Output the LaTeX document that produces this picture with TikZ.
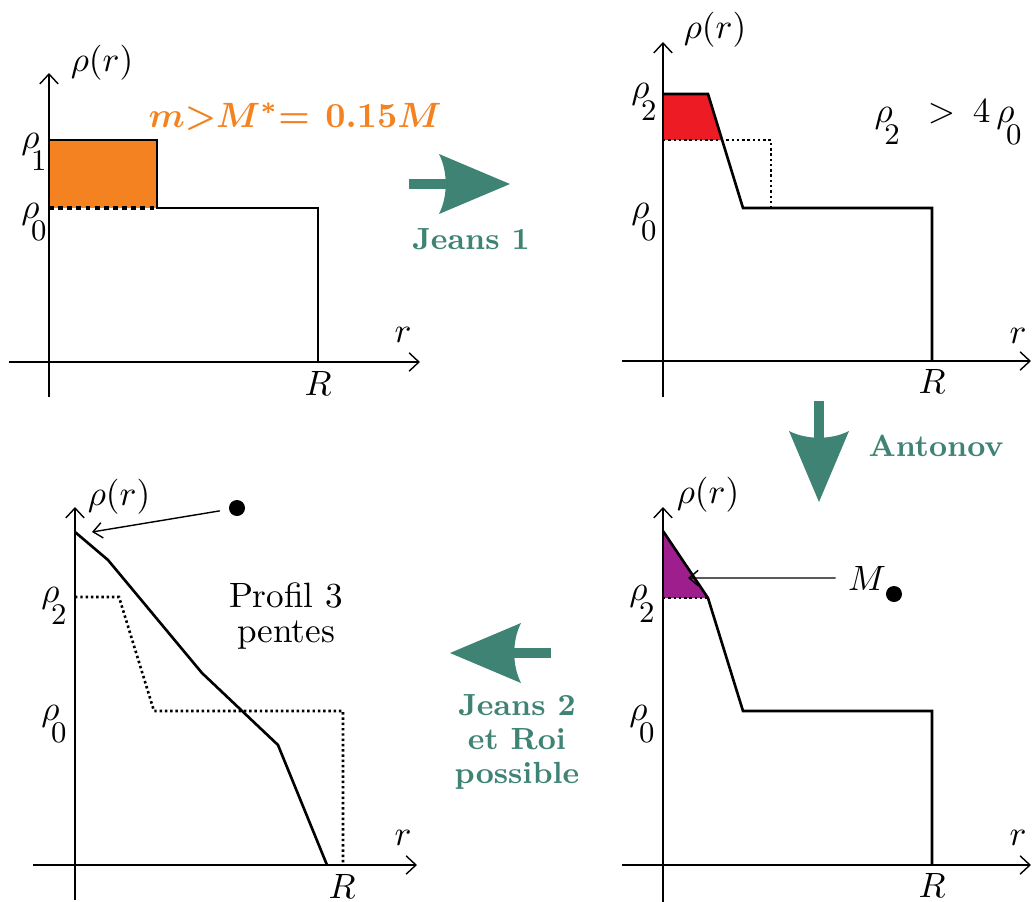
\documentclass[tikz,border=0pt]{standalone}
\usepackage{amsmath,amssymb}
\usepackage{xcolor}
\usetikzlibrary{positioning,arrows.meta}
\definecolor{jeansgreen}{RGB}{62,131,116}
\definecolor{massorange}{RGB}{244,130,32}
\definecolor{corered}{RGB}{237,28,36}
\definecolor{cuspviolet}{RGB}{158,30,142}
\newcommand{\rhosub}[1]{$\rho$\kern-2.4pt\raisebox{-6.3pt}{\fontsize{8.5}{9}\selectfont #1}}
\tikzset{bigarrow/.pic={
  \fill[jeansgreen] (-101,-5) rectangle (-62,5);
  \fill[jeansgreen] (0,0) -- (-71,-30) .. controls (-62,-12) and (-62,12) .. (-71,30) -- cycle;
}}

\begin{document}
\begin{tikzpicture}[
  x=0.01cm, y=-0.01cm,
  axis/.style={line width=0.4pt, -{Straight Barb[length=2.8pt,width=5.2pt]}},
  prof/.style={line width=0.75pt, line join=miter},
  ref/.style={line width=0.75pt, dash pattern=on 0.7pt off 0.8pt},
  lab/.style={inner sep=0pt, anchor=base},
  grn/.style={text=jeansgreen, font=\fontsize{8.7}{9.7}\selectfont\bfseries, align=center},
  dot/.style={circle, fill, inner sep=0pt, minimum size=1.6mm},
  ptr/.style={line width=0.4pt, -{Straight Barb[length=2.6pt,width=4.4pt]}}
]
\useasboundingbox (0,0) rectangle (1032,902);

% panel 1
\fill[massorange] (49,140) rectangle (157,208);
\draw[axis] (49,397) -- (49,73);
\draw[axis] (9,362) -- (420,362);
\draw[prof] (49,140) -- (157,140) -- (157,208) -- (318,208) -- (318,362);
\draw[line width=0.9pt, dash pattern=on 1.4pt off 1.2pt] (49,208) -- (157,208);
\node[lab] (rho1) at (102,71) {$\rho(r)$};
\node[lab] (r1) at (403,342) {$r$};
\node[lab] (R1) at (318,395) {$R$};
\node[lab] (rho1a) at (34,148) {\rhosub{1}};
\node[lab] (rho1b) at (34,218) {\rhosub{0}};
\node[text=massorange] (mass) at (295,117) {$\boldsymbol{m{>}M^{*}{=}}\;\,\boldsymbol{0.15M}$};

% panel 2
\fill[corered] (663,94) -- (708,94) -- (723,140) -- (663,140) -- cycle;
\draw[axis] (663,397) -- (663,42);
\draw[axis] (622,361) -- (1031,361);
\draw[ref] (663,140) -- (771,140) -- (771,208);
\draw[prof] (663,94) -- (708,94) -- (743,208) -- (932,208) -- (932,361);
\node[lab] (rho2) at (715,38) {$\rho(r)$};
\node[lab] (r2) at (1018,343) {$r$};
\node[lab] (R2) at (932,393) {$R$};
\node[lab] (rho2a) at (644,98) {\rhosub{2}};
\node[lab] (rho2b) at (644,218) {\rhosub{0}};
\node[lab, anchor=base west] (cond) at (874,122) {\rhosub{2}\hspace{8pt}$>$\hspace{5pt}$4\,$\rhosub{0}};

% panel 4
\fill[cuspviolet] (663,531) -- (708,598) -- (663,598) -- cycle;
\draw[axis] (663,902) -- (663,507);
\draw[axis] (622,865) -- (1031,865);
\draw[ref] (663,598) -- (708,598);
\draw[prof] (663,531) -- (708,598) -- (743,711) -- (932,711) -- (932,865);
\node[lab] (rho4) at (708,503) {$\rho(r)$};
\node[lab] (r4) at (1018,845) {$r$};
\node[lab] (R4) at (932,897) {$R$};
\node[lab] (rho4a) at (642,600) {\rhosub{2}};
\node[lab] (rho4b) at (642,720) {\rhosub{0}};
\node[anchor=base] (M4) at (867,590) {$M$};
\node[dot] (dot4) at (894,594) {};
\coordinate (cusp4) at (688,578);
\draw[ptr] (M4.west) -- (cusp4);

% panel 3
\draw[axis] (75,900) -- (75,507);
\draw[axis] (33,865) -- (417,865);
\draw[ref] (75,597) -- (119,597) -- (154,711) -- (343,711) -- (343,865);
\draw[prof] (75,532) -- (108,560) -- (202,673) -- (278,745) -- (327,865);
\node[lab] (rho3) at (119,505) {$\rho(r)$};
\node[lab] (r3) at (403,845) {$r$};
\node[lab] (R3) at (342,898) {$R$};
\node[lab] (rho3a) at (54,602) {\rhosub{2}};
\node[lab] (rho3b) at (54,720) {\rhosub{0}};
\node[inner sep=0pt, anchor=north, align=center, font=\fontsize{10}{10}\selectfont] (prof3) at (286,582) {Profil 3\\pentes};
\node[dot] (dot3) at (237,508) {};
\coordinate (top3) at (92,532);
\draw[ptr, shorten <=2.5pt] (dot3) -- (top3);

% steps
\pic at (510,184) {bigarrow};
\node[grn] (jeans1) at (471,239) {Jeans 1};
\pic[rotate=-90] at (819,502) {bigarrow};
\node[grn] (antonov) at (936,446) {Antonov};
\pic[rotate=180] at (450,653) {bigarrow};
\node[grn, inner sep=0pt, anchor=north] (jeans2) at (517,694) {Jeans 2\\et Roi\\possible};
\end{tikzpicture}
\end{document}
